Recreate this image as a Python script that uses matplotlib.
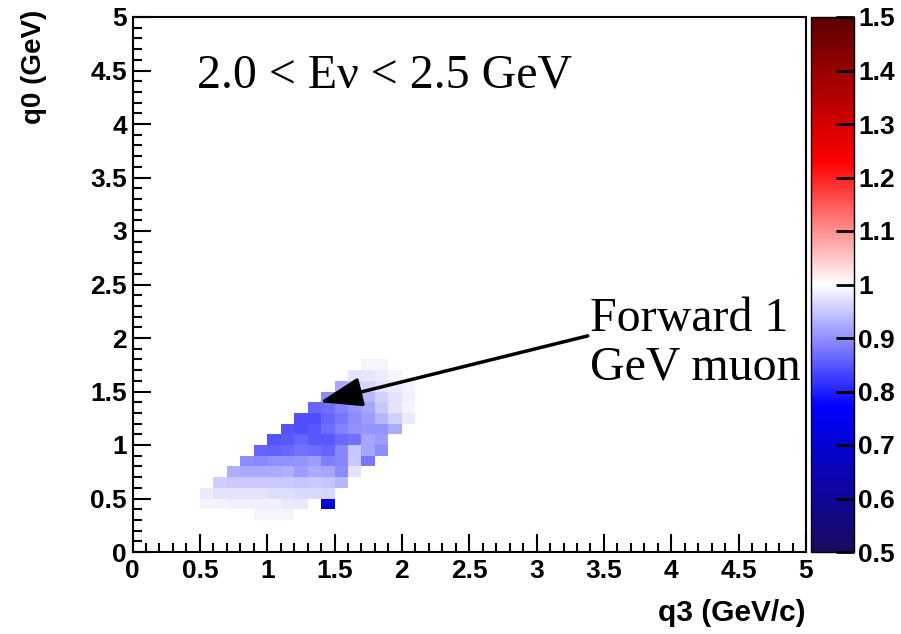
import numpy as np
import matplotlib
matplotlib.use("Agg")
import matplotlib.pyplot as plt
from matplotlib.colors import LinearSegmentedColormap
from matplotlib.ticker import MultipleLocator

plt.rcParams['font.family'] = ['Liberation Sans', 'DejaVu Sans']

# 2D histogram: 50 x 50 bins of 0.1 GeV in q3 (x) and q0 (y)
q3_edges = np.linspace(0.0, 5.0, 51)
q0_edges = np.linspace(0.0, 5.0, 51)

# ratio values per filled q0 row: (q0 bin, first q3 bin, values along q3)
q0_bins = [3, 4, 5, 6, 7, 8, 9, 10, 11, 12, 13, 14, 15, 16, 17]
first_q3_bin = [9, 5, 5, 6, 7, 8, 9, 10, 11, 12, 13, 14, 15, 16, 17]
ratio_rows = [
    [0.991, 0.989, 0.991],
    [0.991, 0.989, 0.988, 0.986, 0.986, 0.985, 0.983, 0.979, None, 0.70],
    [0.982, 0.976, 0.973, 0.973, 0.973, 0.970, 0.970, 0.968, 0.968, 0.964],
    [0.955, 0.950, 0.950, 0.950, 0.950, 0.950, 0.946, 0.950, 0.946, 0.937],
    [0.928, 0.923, 0.923, 0.923, 0.928, 0.914, 0.923, 0.919, 0.896, 0.973],
    [0.896, 0.892, 0.901, 0.901, 0.905, 0.914, 0.883, 0.892, 0.950, 0.878],
    [0.860, 0.856, 0.865, 0.874, 0.869, 0.860, 0.892, 0.946, 0.919, 0.896],
    [0.847, 0.851, 0.860, 0.851, 0.851, 0.865, 0.874, 0.919, 0.914],
    [0.847, 0.842, 0.851, 0.869, 0.887, 0.901, 0.905, 0.905, 0.923],
    [0.842, 0.842, 0.860, 0.878, 0.896, 0.914, 0.937, 0.959, 0.982],
    [0.860, 0.869, 0.887, 0.905, 0.919, 0.950, 0.973, 0.991],
    [0.896, 0.923, 0.930, 0.937, 0.959, 0.973, 0.986],
    [0.923, 0.950, 0.964, 0.973, 0.982, 0.991],
    [0.973, 0.977, 0.982, 0.991],
    [0.991, 0.991],
]

cbar_ticks = [0.5, 0.6, 0.7, 0.8, 0.9, 1.0, 1.1, 1.2, 1.3, 1.4, 1.5]
axis_ticks = [0, 0.5, 1, 1.5, 2, 2.5, 3, 3.5, 4, 4.5, 5]

ratio = np.full((len(q0_edges) - 1, len(q3_edges) - 1), np.nan)
for j, i0, vals in zip(q0_bins, first_q3_bin, ratio_rows):
    for k, v in enumerate(vals):
        if v is not None:
            ratio[j, i0 + k] = v
ratio = np.ma.masked_invalid(ratio)

# blue-white-red palette centred on 1
cmap = LinearSegmentedColormap.from_list(
    "bwr_root",
    [(0.00, (0.09, 0.04, 0.36)),
     (0.27, (0.0, 0.0, 1.0)),
     (0.50, (1.0, 1.0, 1.0)),
     (0.73, (1.0, 0.0, 0.0)),
     (1.00, (0.36, 0.0, 0.0))],
)

W, H = 901, 634
fig = plt.figure(figsize=(W / 100, H / 100), dpi=100)
ax = fig.add_axes([132.5 / W, 82 / H, (806 - 132.5) / W, (552 - 17) / H])
cax = fig.add_axes([811 / W, 82 / H, 43 / W, (552 - 17) / H])

mesh = ax.pcolormesh(q3_edges, q0_edges, ratio, cmap=cmap, vmin=0.5, vmax=1.5)
ax.set_xlim(0, 5)
ax.set_ylim(0, 5)

TICK_FS = 19
ax.set_xticks(axis_ticks)
ax.set_yticks(axis_ticks)
ax.set_xticklabels([f"{t:g}" for t in axis_ticks])
ax.set_yticklabels([f"{t:g}" for t in axis_ticks])
ax.xaxis.set_minor_locator(MultipleLocator(0.1))
ax.yaxis.set_minor_locator(MultipleLocator(0.1))
ax.tick_params(which='both', direction='in', width=1.5, top=False, right=False,
               labelsize=TICK_FS, colors='black')
ax.tick_params(which='major', length=13)
ax.tick_params(which='minor', length=6.5)
ax.tick_params(axis='x', pad=5)
ax.tick_params(axis='y', pad=4)
for lab in ax.get_xticklabels() + ax.get_yticklabels():
    lab.set_fontweight('bold')
for sp in ax.spines.values():
    sp.set_linewidth(1.5)

cb = fig.colorbar(mesh, cax=cax, ticks=cbar_ticks)
cb.outline.set_linewidth(1.0)
cax.tick_params(direction='in', length=13, width=2, labelsize=TICK_FS, pad=3)
cax.set_yticklabels([f"{t:g}" for t in cbar_ticks])
for lab in cax.get_yticklabels():
    lab.set_fontweight('bold')

fig.text(34 / W, 1 - 10 / H, "q0 (GeV)", rotation=90, ha='center', va='top',
         fontsize=20, fontweight='bold')
fig.text(806 / W, 1 - 613 / H, "q3 (GeV/c)", ha='right', va='center',
         fontsize=21.5, fontweight='bold')

serif = ['Liberation Serif', 'DejaVu Serif']
ax.text(0.48, 4.34, "2.0 < Eν < 2.5 GeV", family=serif, fontsize=34.5,
        ha='left', va='baseline')
ax.text(3.40, 2.07, "Forward 1", family=serif, fontsize=34.5,
        ha='left', va='baseline')
ax.text(3.40, 1.61, "GeV muon", family=serif, fontsize=34.5,
        ha='left', va='baseline')
ax.annotate("", xy=(1.39, 1.40), xytext=(3.38, 2.02),
            arrowprops=dict(arrowstyle="-|>,head_length=1.3,head_width=0.45",
                            mutation_scale=20, lw=2.5, color='black',
                            shrinkA=0, shrinkB=0))

fig.savefig("out.png", dpi=100)
